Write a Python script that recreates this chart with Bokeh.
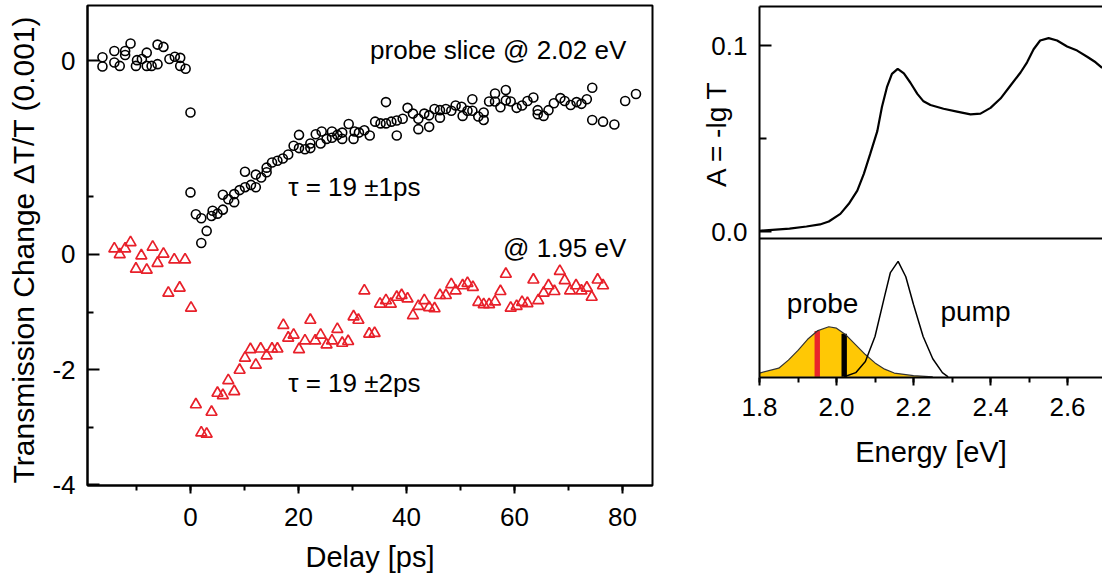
from bokeh.plotting import figure
from bokeh.models import (FixedTicker, SingleIntervalTicker, LinearAxis, Label, Span,
                          CustomJSTickFormatter, PrintfTickFormatter, Range1d)
from bokeh.layouts import row, column
from bokeh.embed import file_html
from bokeh.resources import INLINE
import numpy as np

FONT = "Liberation Sans"

# ---------------- data: probe slice @ 2.02 eV (black circles) ----------------
circ_delay = [-16.3, -16.3, -14.1, -14.1, -13.1, -12.1, -12.1, -11.1, -10.1, -9.9,
              -9.0, -8.1, -8.1, -7.2, -6.1, -6.1, -5.0, -3.9, -2.9, -1.9,
              -1.9, -0.9, 0.0, 0.0, 1.0, 2.0, 2.0, 3.0, 3.9, 4.1,
              5.0, 6.0, 6.0, 7.0, 8.1, 8.1, 9.1, 10.1, 10.1, 11.2,
              12.1, 12.1, 13.1, 14.1, 14.1, 15.1, 16.1, 17.1, 18.1, 19.1,
              20.1, 20.1, 21.2, 22.2, 22.2, 23.2, 24.1, 24.3, 25.2, 26.2,
              26.2, 27.2, 28.1, 28.1, 29.3, 30.2, 30.4, 31.2, 32.2, 33.2,
              34.2, 35.2, 36.2, 36.2, 37.2, 38.2, 38.2, 39.3, 40.2, 41.2,
              42.2, 42.2, 43.3, 44.2, 44.2, 45.2, 46.2, 46.2, 47.3, 48.3,
              49.1, 50.2, 50.4, 51.3, 52.2, 52.2, 53.3, 54.3, 54.3, 55.3,
              56.4, 56.4, 57.4, 58.4, 58.4, 59.3, 60.4, 61.4, 62.4, 63.5,
              64.3, 64.3, 65.4, 66.3, 67.3, 68.5, 69.3, 70.4, 71.5, 72.4,
              73.4, 74.4, 74.4, 76.4, 78.5, 80.5, 82.5]
circ_dtt = [0.06, -0.10, 0.17, -0.03, -0.09, 0.17, 0.10, 0.30, -0.09, 0.01,
            0.03, 0.14, -0.09, -0.09, -0.06, 0.28, 0.24, 0.03, 0.07, 0.05,
            -0.09, -0.14, -0.90, -2.29, -2.67, -2.74, -3.17, -2.96, -2.70, -2.61,
            -2.66, -2.59, -2.33, -2.41, -2.32, -2.46, -2.25, -2.20, -1.93, -2.16,
            -2.20, -1.98, -2.03, -1.94, -1.86, -1.77, -1.74, -1.70, -1.63, -1.48,
            -1.29, -1.52, -1.54, -1.44, -1.52, -1.28, -1.44, -1.23, -1.36, -1.23,
            -1.34, -1.29, -1.25, -1.36, -1.10, -1.36, -1.23, -1.25, -1.21, -1.30,
            -1.06, -1.09, -0.72, -1.09, -1.06, -1.30, -1.04, -1.01, -0.82, -0.92,
            -1.19, -1.01, -0.92, -1.15, -0.95, -0.84, -0.99, -0.86, -0.84, -0.87,
            -0.78, -0.80, -0.96, -0.87, -0.67, -0.87, -0.97, -1.03, -0.90, -0.71,
            -0.57, -0.71, -0.81, -0.51, -0.69, -0.71, -0.82, -0.78, -0.70, -0.64,
            -0.93, -0.86, -0.96, -0.86, -0.74, -0.65, -0.70, -0.77, -0.72, -0.75,
            -0.67, -0.47, -1.03, -1.06, -1.11, -0.70, -0.58]

# ---------------- data: @ 1.95 eV (red triangles) ----------------
tri_delay = [-14.1, -13.1, -12.1, -11.1, -10.1, -9.1, -8.1, -7.0, -6.1, -5.0,
             -4.1, -3.0, -2.0, -1.0, 0.1, 1.0, 2.0, 3.0, 3.9, 5.0,
             6.0, 7.0, 8.1, 9.1, 10.1, 11.1, 12.1, 13.0, 14.1, 15.1,
             16.1, 17.2, 18.1, 19.1, 20.1, 21.2, 22.2, 23.1, 24.1, 25.2,
             26.2, 27.2, 28.1, 29.2, 30.2, 31.1, 32.2, 33.1, 34.1, 35.1,
             36.2, 37.1, 38.2, 39.1, 40.2, 41.2, 42.2, 43.3, 44.2, 45.2,
             46.2, 47.3, 48.3, 49.1, 50.4, 51.3, 52.3, 53.3, 54.3, 55.3,
             56.4, 57.4, 58.4, 59.3, 60.4, 61.4, 62.4, 63.5, 64.4, 65.4,
             66.3, 67.4, 68.4, 69.3, 70.3, 71.4, 72.4, 73.4, 74.3, 75.4, 76.4]
tri_dtt = [0.10, 0.00, 0.10, 0.21, -0.25, -0.02, -0.27, 0.13, -0.15, 0.01,
           -0.67, -0.09, -0.58, -0.09, -0.93, -2.61, -3.10, -3.12, -2.74, -2.41,
           -2.45, -2.19, -2.38, -2.01, -1.80, -1.65, -1.92, -1.64, -1.76, -1.64,
           -1.64, -1.23, -1.45, -1.40, -1.65, -1.50, -1.14, -1.50, -1.40, -1.57,
           -1.50, -1.30, -1.54, -1.51, -1.08, -1.14, -0.63, -1.38, -1.37, -0.86,
           -0.80, -0.86, -0.74, -0.71, -0.77, -1.06, -0.90, -0.80, -0.92, -0.94,
           -0.71, -0.71, -0.52, -0.63, -0.54, -0.50, -0.57, -0.83, -0.87, -0.87,
           -0.82, -0.64, -0.34, -0.93, -0.90, -0.83, -0.85, -0.44, -0.80, -0.67,
           -0.54, -0.64, -0.29, -0.45, -0.63, -0.54, -0.63, -0.58, -0.74, -0.44, -0.54]

CIRC_OFFSET = 3.37   # vertical offset of the 2.02 eV trace (its own zero)

# ---------------- data: absorption spectrum ----------------
abs_energy = [1.80, 1.878, 1.922, 1.957, 1.980, 2.010, 2.032, 2.054, 2.071, 2.088,
              2.106, 2.118, 2.131, 2.144, 2.159, 2.175, 2.192, 2.210, 2.226, 2.244,
              2.278, 2.313, 2.348, 2.374, 2.400, 2.426, 2.452, 2.478, 2.495, 2.512,
              2.529, 2.551, 2.573, 2.599, 2.625, 2.651, 2.673, 2.69]
abs_A = [0.0004, 0.0016, 0.0027, 0.0038, 0.0054, 0.0095, 0.0149, 0.022, 0.031, 0.042,
         0.054, 0.067, 0.0776, 0.0848, 0.0875, 0.085, 0.080, 0.074, 0.070, 0.068,
         0.066, 0.0645, 0.063, 0.0634, 0.0665, 0.0715, 0.0785, 0.0855, 0.091, 0.098,
         0.1027, 0.104, 0.1027, 0.0995, 0.0973, 0.094, 0.091, 0.088]

# ---------------- data: probe / pump spectra (arb. units) ----------------
probe_energy = [1.80, 1.85, 1.875, 1.90, 1.925, 1.95, 1.98, 2.00, 2.025, 2.05,
                2.075, 2.10, 2.125, 2.15, 2.20, 2.25]
probe_int = [0.027, 0.062, 0.12, 0.19, 0.27, 0.33, 0.36, 0.35, 0.30, 0.23,
             0.16, 0.10, 0.055, 0.027, 0.008, 0.0]
pump_energy = [2.02, 2.05, 2.075, 2.10, 2.125, 2.14, 2.16, 2.18, 2.20, 2.225,
               2.25, 2.275, 2.29]
pump_int = [0.0, 0.03, 0.11, 0.29, 0.58, 0.75, 0.83, 0.72, 0.52, 0.29,
            0.13, 0.03, 0.0]
slice_energy = [1.95, 2.02]
slice_color = ["#E8262B", "#000000"]


def style_axis(ax, size="26px"):
    ax.major_label_text_font = FONT
    ax.major_label_text_font_size = size
    ax.major_label_text_color = "black"
    ax.axis_label_text_font = FONT
    ax.axis_label_text_font_style = "normal"
    ax.axis_label_text_color = "black"
    ax.axis_line_width = 2
    ax.axis_line_color = "black"
    ax.major_tick_line_width = 2
    ax.minor_tick_line_width = 2
    ax.major_tick_line_color = "black"
    ax.minor_tick_line_color = "black"


def line_only_axis():
    return LinearAxis(ticker=FixedTicker(ticks=[], minor_ticks=[]),
                      major_tick_in=0, major_tick_out=0, minor_tick_in=0,
                      minor_tick_out=0, major_label_standoff=0,
                      axis_line_width=2, axis_line_color="black")


# ============ left figure ============
left = figure(width=690, height=579, output_backend="svg", toolbar_location=None,
              x_range=Range1d(-19.07, 85.56), y_range=Range1d(-4.017, 4.33),
              min_border_left=87, min_border_right=38, min_border_top=5,
              min_border_bottom=94)
left.grid.visible = False
left.outline_line_color = "black"
left.outline_line_width = 2
left.background_fill_color = "white"
left.border_fill_color = "white"

xa = left.xaxis[0]
style_axis(xa)
xa.ticker = SingleIntervalTicker(interval=20, num_minor_ticks=2)
xa.major_tick_in = 0
xa.major_tick_out = 8
xa.minor_tick_in = 0
xa.minor_tick_out = 5
xa.major_label_standoff = 14
xa.axis_label = "Delay [ps]"
xa.axis_label_text_font_size = "29px"
xa.axis_label_standoff = 12

ya = left.yaxis[0]
style_axis(ya)
ya.ticker = FixedTicker(ticks=[-4, -2, 0, CIRC_OFFSET], minor_ticks=[-3, -1, 1])
ya.formatter = CustomJSTickFormatter(code="return tick > 2 ? '0' : tick.toFixed(0);")
ya.major_tick_in = 12
ya.major_tick_out = 0
ya.minor_tick_in = 6
ya.minor_tick_out = 0
ya.major_label_standoff = 12
ya.axis_label = "Transmission Change \u0394T/T  (0.001)"
ya.axis_label_text_font_size = "30px"
ya.axis_label_standoff = 9

circ_y = [v + CIRC_OFFSET for v in circ_dtt]
left.scatter(circ_delay, circ_y, marker="circle", size=9, fill_color=None,
             line_color="black", line_width=1.6)
left.scatter(tri_delay, tri_dtt, marker="triangle", size=11, fill_color=None,
             line_color="#E8202A", line_width=1.7)

ann = dict(text_font=FONT, text_font_size="26px", text_color="black",
           text_baseline="middle")
left.add_layout(Label(x=80.7, y=3.55, text="probe slice @ 2.02 eV",
                      text_align="right", **ann))
left.add_layout(Label(x=80.7, y=0.12, text="@ 1.95 eV", text_align="right", **ann))
left.add_layout(Label(x=18.1, y=1.17, text="\u03c4 = 19 \u00b11ps",
                      text_align="left", **ann))
left.add_layout(Label(x=18.1, y=-2.24, text="\u03c4 = 19 \u00b12ps",
                      text_align="left", **ann))

# ============ right figure: absorbance (top) + probe/pump spectra (bottom) ============
E_RANGE = (1.8, 1.8 + 343 / 385)

right = figure(width=412, height=579, output_backend="svg", toolbar_location=None,
               x_range=Range1d(*E_RANGE), y_range=Range1d(-0.0785, 0.121),
               min_border_left=69, min_border_right=0, min_border_top=6,
               min_border_bottom=202)
right.extra_y_ranges = {"spec": Range1d(-0.005, 2.664)}
right.grid.visible = False
right.outline_line_color = None
right.background_fill_color = "white"
right.border_fill_color = "white"

rya = right.yaxis[0]
style_axis(rya)
rya.ticker = FixedTicker(ticks=[0.0, 0.1], minor_ticks=[0.05])
rya.formatter = PrintfTickFormatter(format="%.1f")
rya.major_tick_in = 12
rya.major_tick_out = 0
rya.minor_tick_in = 7
rya.minor_tick_out = 0
rya.major_label_standoff = 12
# title sits over the upper (absorbance) panel only: leading no-break spaces
rya.axis_label = "\u00a0" * 15 + "A = -lg T"
rya.axis_label_text_font_size = "28px"
rya.axis_label_standoff = -24

bxa = right.xaxis[0]
style_axis(bxa)
bxa.ticker = SingleIntervalTicker(interval=0.2, num_minor_ticks=2)
bxa.formatter = PrintfTickFormatter(format="%.1f")
bxa.major_tick_in = 0
bxa.major_tick_out = 8
bxa.minor_tick_in = 0
bxa.minor_tick_out = 5
bxa.major_label_standoff = 12
bxa.axis_label = "Energy [eV]"
bxa.axis_label_text_font_size = "29px"
bxa.axis_label_standoff = 17

right.add_layout(line_only_axis(), "above")
right.add_layout(Span(location=-0.00376, dimension="width", line_width=2,
                      line_color="black"))

right.line(abs_energy, abs_A, line_color="black", line_width=2.2)

right.varea(x=probe_energy, y1=[0] * len(probe_energy), y2=probe_int,
            fill_color="#FFC805", y_range_name="spec")
slice_top = list(np.interp(slice_energy, probe_energy, probe_int))
right.vbar(x=slice_energy, top=slice_top, bottom=0, width=0.014,
           fill_color=slice_color, line_color=None, y_range_name="spec")
right.line(probe_energy, probe_int, line_color="#333333", line_width=1.2,
           y_range_name="spec")
right.line(pump_energy, pump_int, line_color="black", line_width=1.5,
           y_range_name="spec")

lab = dict(text_font=FONT, text_font_size="28px", text_color="black",
           text_align="center", text_baseline="middle", y_range_name="spec")
right.add_layout(Label(x=1.964, y=0.53, text="probe", **lab))
right.add_layout(Label(x=2.361, y=0.47, text="pump", **lab))

layout = row(left, column(right))
open("out.html", "w").write(file_html(layout, INLINE))
